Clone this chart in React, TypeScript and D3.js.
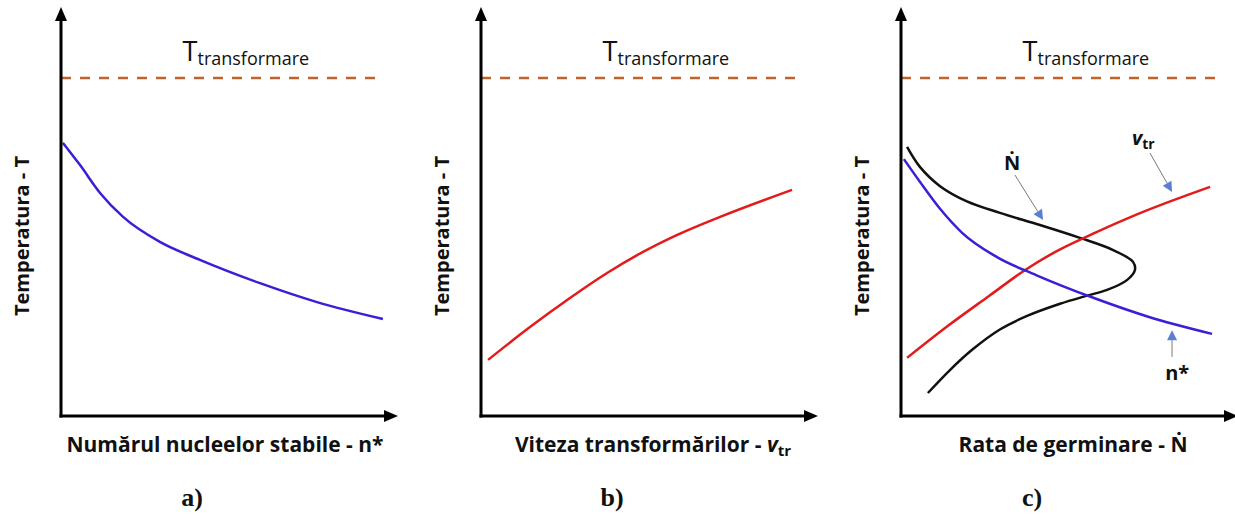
import React from 'react';
import * as d3 from 'd3';

// ---------- data (x value, temperature) ----------
const T_TRANSFORM = 100;
const nStarA: [number, number][] = [
  [0.6, 80.8], [5.9, 74.3], [12.2, 66.0], [19.4, 58.9], [30.9, 51.5],
  [43.4, 46.2], [62.2, 39.3], [80.0, 33.7], [100.6, 28.7],
];
const vtrB: [number, number][] = [
  [2.2, 16.6], [15.3, 26.3], [27.8, 34.9], [39.4, 42.3], [48.8, 47.6],
  [60.0, 53.0], [74.7, 58.9], [97.2, 66.9],
];
const nStarC: [number, number][] = [
  [0.9, 76.0], [5.9, 69.3], [12.2, 61.3], [19.1, 54.2], [30.0, 47.0],
  [42.2, 41.7], [60.3, 34.9], [77.5, 29.3], [97.2, 24.3],
];
const vtrC: [number, number][] = [
  [1.9, 17.2], [15.0, 26.9], [27.5, 35.5], [38.8, 43.2], [48.1, 48.5],
  [59.7, 53.8], [74.1, 59.8], [96.6, 67.8],
];
const nDotC: [number, number][] = [
  [1.9, 79.6], [5.9, 73.7], [12.2, 68.0], [20.6, 63.5], [30.9, 60.1], [43.4, 56.5],
  [55.9, 52.7], [66.3, 49.1], [72.5, 45.6], [73.1, 43.2], [70.6, 40.2], [64.4, 37.3],
  [58.1, 35.6], [49.7, 33.2], [39.4, 29.6], [30.9, 25.6], [22.5, 19.8], [15.3, 13.6], [8.4, 6.8],
];
// annotation anchors in data units: [labelX, labelT, arrowFromX, arrowFromT, arrowToX, arrowToT]
const annNDot = [34.7, 74.9, 35.6, 71.3, 44.4, 58.0];
const annVtr = [75.6, 82.2, 77.8, 77.8, 84.7, 66.3];
const annNStar = [86.3, 12.7, 84.7, 17.5, 84.7, 25.4];

const panelLetters = ['a)', 'b)', 'c)'];
const yTitle = 'Temperatura - T';

const BLUE = '#3a1ed8';
const RED = '#e21b1b';
const DASH = '#c0622b';
const FONT = '"Open Sans", "Noto Sans", sans-serif';

const W = 1235;
const H = 518;
const AX_Y = 416;
const panelX0 = [61, 481, 901];

function Arrow({ x1, y1, x2, y2 }: { x1: number; y1: number; x2: number; y2: number }) {
  const dx = x2 - x1, dy = y2 - y1;
  const len = Math.hypot(dx, dy);
  const ux = dx / len, uy = dy / len;
  const hl = 10, hw = 5;
  const bx = x2 - ux * hl, by = y2 - uy * hl;
  const pts = [
    [x2, y2],
    [bx - uy * hw, by + ux * hw],
    [bx + uy * hw, by - ux * hw],
  ].map(p => p.join(',')).join(' ');
  return (
    <g>
      <line x1={x1} y1={y1} x2={bx} y2={by} stroke="#7a7a7a" strokeWidth={1} />
      <polygon points={pts} fill="#5b7fd0" />
    </g>
  );
}

function Panel({ idx }: { idx: number }) {
  const x0 = panelX0[idx];
  const x = d3.scaleLinear().domain([0, 100]).range([x0, x0 + 320]);
  const y = d3.scaleLinear().domain([0, 100]).range([AX_Y, 78]);
  const smooth = d3.line<[number, number]>().x(d => x(d[0])).y(d => y(d[1])).curve(d3.curveCatmullRom.alpha(0.5));
  const mono = d3.line<[number, number]>().x(d => x(d[0])).y(d => y(d[1])).curve(d3.curveMonotoneX);
  const axTop = 7;
  const axRight = x0 + 337;
  return (
    <g>
      {/* T transformare */}
      <text x={x(38)} y={y(T_TRANSFORM) - 17} fontFamily={FONT} fill="#111">
        <tspan fontSize={27}>T</tspan>
        <tspan fontSize={18} dy={4}>transformare</tspan>
      </text>
      <line x1={x(0)} x2={x(98.8)} y1={y(T_TRANSFORM)} y2={y(T_TRANSFORM)} stroke={DASH} strokeWidth={2.5} strokeDasharray="10,9" />

      {/* curves */}
      {idx === 0 && <path d={mono(nStarA) || ''} fill="none" stroke={BLUE} strokeWidth={2.5} />}
      {idx === 1 && <path d={mono(vtrB) || ''} fill="none" stroke={RED} strokeWidth={2.5} />}
      {idx === 2 && (
        <g>
          <path d={smooth(nDotC) || ''} fill="none" stroke="#111" strokeWidth={2.5} />
          <path d={mono(vtrC) || ''} fill="none" stroke={RED} strokeWidth={2.5} />
          <path d={mono(nStarC) || ''} fill="none" stroke={BLUE} strokeWidth={2.5} />
          <Arrow x1={x(annNDot[2])} y1={y(annNDot[3])} x2={x(annNDot[4])} y2={y(annNDot[5])} />
          <Arrow x1={x(annVtr[2])} y1={y(annVtr[3])} x2={x(annVtr[4])} y2={y(annVtr[5])} />
          <Arrow x1={x(annNStar[2])} y1={y(annNStar[3])} x2={x(annNStar[4])} y2={y(annNStar[5])} />
          <text x={x(annNDot[0])} y={y(annNDot[1]) + 7} textAnchor="middle" fontFamily={FONT} fontWeight="bold" fontSize={20} fill="#111">Ṅ</text>
          <text x={x(annVtr[0]) - 11} y={y(annVtr[1]) + 7} fontFamily={FONT} fontWeight="bold" fill="#111">
            <tspan fontSize={20} fontStyle="italic">v</tspan>
            <tspan fontSize={14} dy={4}>tr</tspan>
          </text>
          <text x={x(annNStar[0])} y={y(annNStar[1]) + 7} textAnchor="middle" fontFamily={FONT} fontWeight="bold" fontSize={20} fill="#111">n*</text>
        </g>
      )}

      {/* axes */}
      <line x1={x0} y1={AX_Y + 1.5} x2={x0} y2={axTop + 10} stroke="#000" strokeWidth={3} />
      <polygon points={`${x0},${axTop} ${x0 - 6},${axTop + 14} ${x0 + 6},${axTop + 14}`} fill="#000" />
      <line x1={x0 - 1.5} y1={AX_Y} x2={axRight - 10} y2={AX_Y} stroke="#000" strokeWidth={3} />
      <polygon points={`${axRight},${AX_Y} ${axRight - 14},${AX_Y - 6} ${axRight - 14},${AX_Y + 6}`} fill="#000" />

      {/* titles */}
      <text transform={`translate(${x0 - 32},236) rotate(-90)`} textAnchor="middle" fontFamily={FONT} fontWeight="bold" fontSize={20} fill="#111">{yTitle}</text>
      {idx === 0 && (
        <text x={x0 + 164} y={452} textAnchor="middle" fontFamily={FONT} fontWeight="bold" fontSize={21} fill="#111">Numărul nucleelor stabile - n*</text>
      )}
      {idx === 1 && (
        <text x={x0 + 172} y={452} textAnchor="middle" fontFamily={FONT} fontWeight="bold" fontSize={21} fill="#111">
          <tspan>Viteza transformărilor - </tspan>
          <tspan fontStyle="italic">v</tspan>
          <tspan fontSize={15} dy={4}>tr</tspan>
        </text>
      )}
      {idx === 2 && (
        <text x={x0 + 172} y={452} textAnchor="middle" fontFamily={FONT} fontWeight="bold" fontSize={21} fill="#111">Rata de germinare - Ṅ</text>
      )}
      <text x={[192, 612, 1032][idx]} y={506} textAnchor="middle" fontFamily='"Liberation Serif", "DejaVu Serif", serif' fontWeight="bold" fontSize={26} fill="#111">{panelLetters[idx]}</text>
    </g>
  );
}

export default function App() {
  return (
    <svg width={W} height={H} viewBox={`0 0 ${W} ${H}`} style={{ position: 'absolute', left: 0, top: 0, background: '#fff' }}>
      <rect width={W} height={H} fill="#fff" />
      {[0, 1, 2].map(i => <Panel key={i} idx={i} />)}
    </svg>
  );
}
